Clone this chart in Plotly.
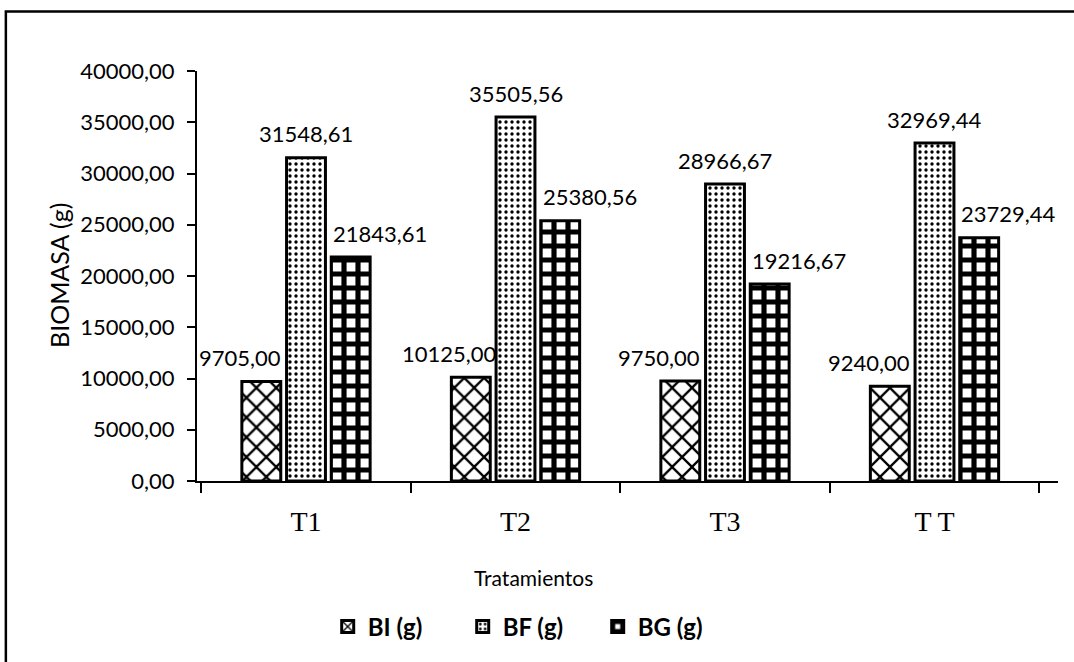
import plotly.graph_objects as go

categories = ["T1", "T2", "T3", "T T"]
bi_values = [9705.00, 10125.00, 9750.00, 9240.00]
bf_values = [31548.61, 35505.56, 28966.67, 32969.44]
bg_values = [21843.61, 25380.56, 19216.67, 23729.44]
series_names = ["BI (g)", "BF (g)", "BG (g)"]
y_tick_values = [0, 5000, 10000, 15000, 20000, 25000, 30000, 35000, 40000]

series = [bi_values, bf_values, bg_values]
patterns = [
    dict(shape="x", size=14, solidity=0.3, fgcolor="black", fgopacity=1, bgcolor="white", fillmode="overlay"),
    dict(shape=".", size=6, solidity=0.25, fgcolor="black", fgopacity=1, bgcolor="white", fillmode="overlay"),
    dict(shape="+", size=14, solidity=0.6, fgcolor="black", fgopacity=1, bgcolor="white", fillmode="overlay"),
]
label_dx = [-20, 0, 28]   # horizontal nudge of each series' labels
slot_px = 46              # width of one bar slot in pixels

def fmt(v):
    return f"{v:.2f}".replace(".", ",")

fig = go.Figure()
for name, vals, pat in zip(series_names, series, patterns):
    fig.add_trace(go.Bar(
        x=categories, y=vals, name=name,
        marker=dict(color="white", line=dict(color="black", width=3), pattern=pat),
    ))

annotations = []
for i, vals in enumerate(series):
    for c, v in zip(categories, vals):
        annotations.append(dict(
            x=c, y=v, xref="x", yref="y", text=fmt(v), showarrow=False,
            xshift=(i - 1) * slot_px + label_dx[i], yshift=24,
            font=dict(family="Lato", size=22, color="black"),
        ))

annotations.append(dict(
    text="Tratamientos", xref="paper", yref="paper", x=0.391, y=-0.235,
    yanchor="middle", showarrow=False, font=dict(family="Lato", size=21, color="black"),
))
annotations.append(dict(
    text="BIOMASA (g)", xref="paper", yref="paper", x=-0.18, y=0.5,
    textangle=-90, showarrow=False, font=dict(family="Lato", size=25, color="black"),
))

fig.update_layout(
    width=1074, height=662,
    margin=dict(l=197, r=16, t=71, b=176),
    paper_bgcolor="white", plot_bgcolor="white",
    barmode="group", bargap=0.36, bargroupgap=0.13,
    separators=",.",
    showlegend=True,
    legend=dict(orientation="h", x=0.387, xanchor="center", y=-0.356, yanchor="middle",
                font=dict(family="Lato", size=24, color="black", weight="bold"),
                itemwidth=30, entrywidth=90, entrywidthmode="pixels", traceorder="normal"),
    annotations=annotations,
    shapes=[dict(type="rect", xref="paper", yref="paper",
                 x0=-0.222, x1=1.3, y0=-0.7, y1=1.145,
                 line=dict(color="black", width=2.5), fillcolor="rgba(0,0,0,0)", layer="below")],
)
fig.update_xaxes(
    type="category", showline=True, linecolor="black", linewidth=2,
    ticks="outside", tickson="boundaries", ticklen=10, tickwidth=2, tickcolor="black",
    tickfont=dict(family="Liberation Serif", size=28, color="black"),
    ticklabelstandoff=14, showgrid=False,
)
fig.update_yaxes(
    range=[0, 40000], tickvals=y_tick_values, tickformat=".2f",
    showline=True, linecolor="black", linewidth=2,
    ticks="outside", ticklen=8, tickwidth=2, tickcolor="black",
    tickfont=dict(family="Lato", size=22, color="black"),
    ticklabelstandoff=8, showgrid=False, zeroline=False,
)

fig.write_html("out.html", config={"displayModeBar": False},
               post_script="document.body.style.margin='0px';")
